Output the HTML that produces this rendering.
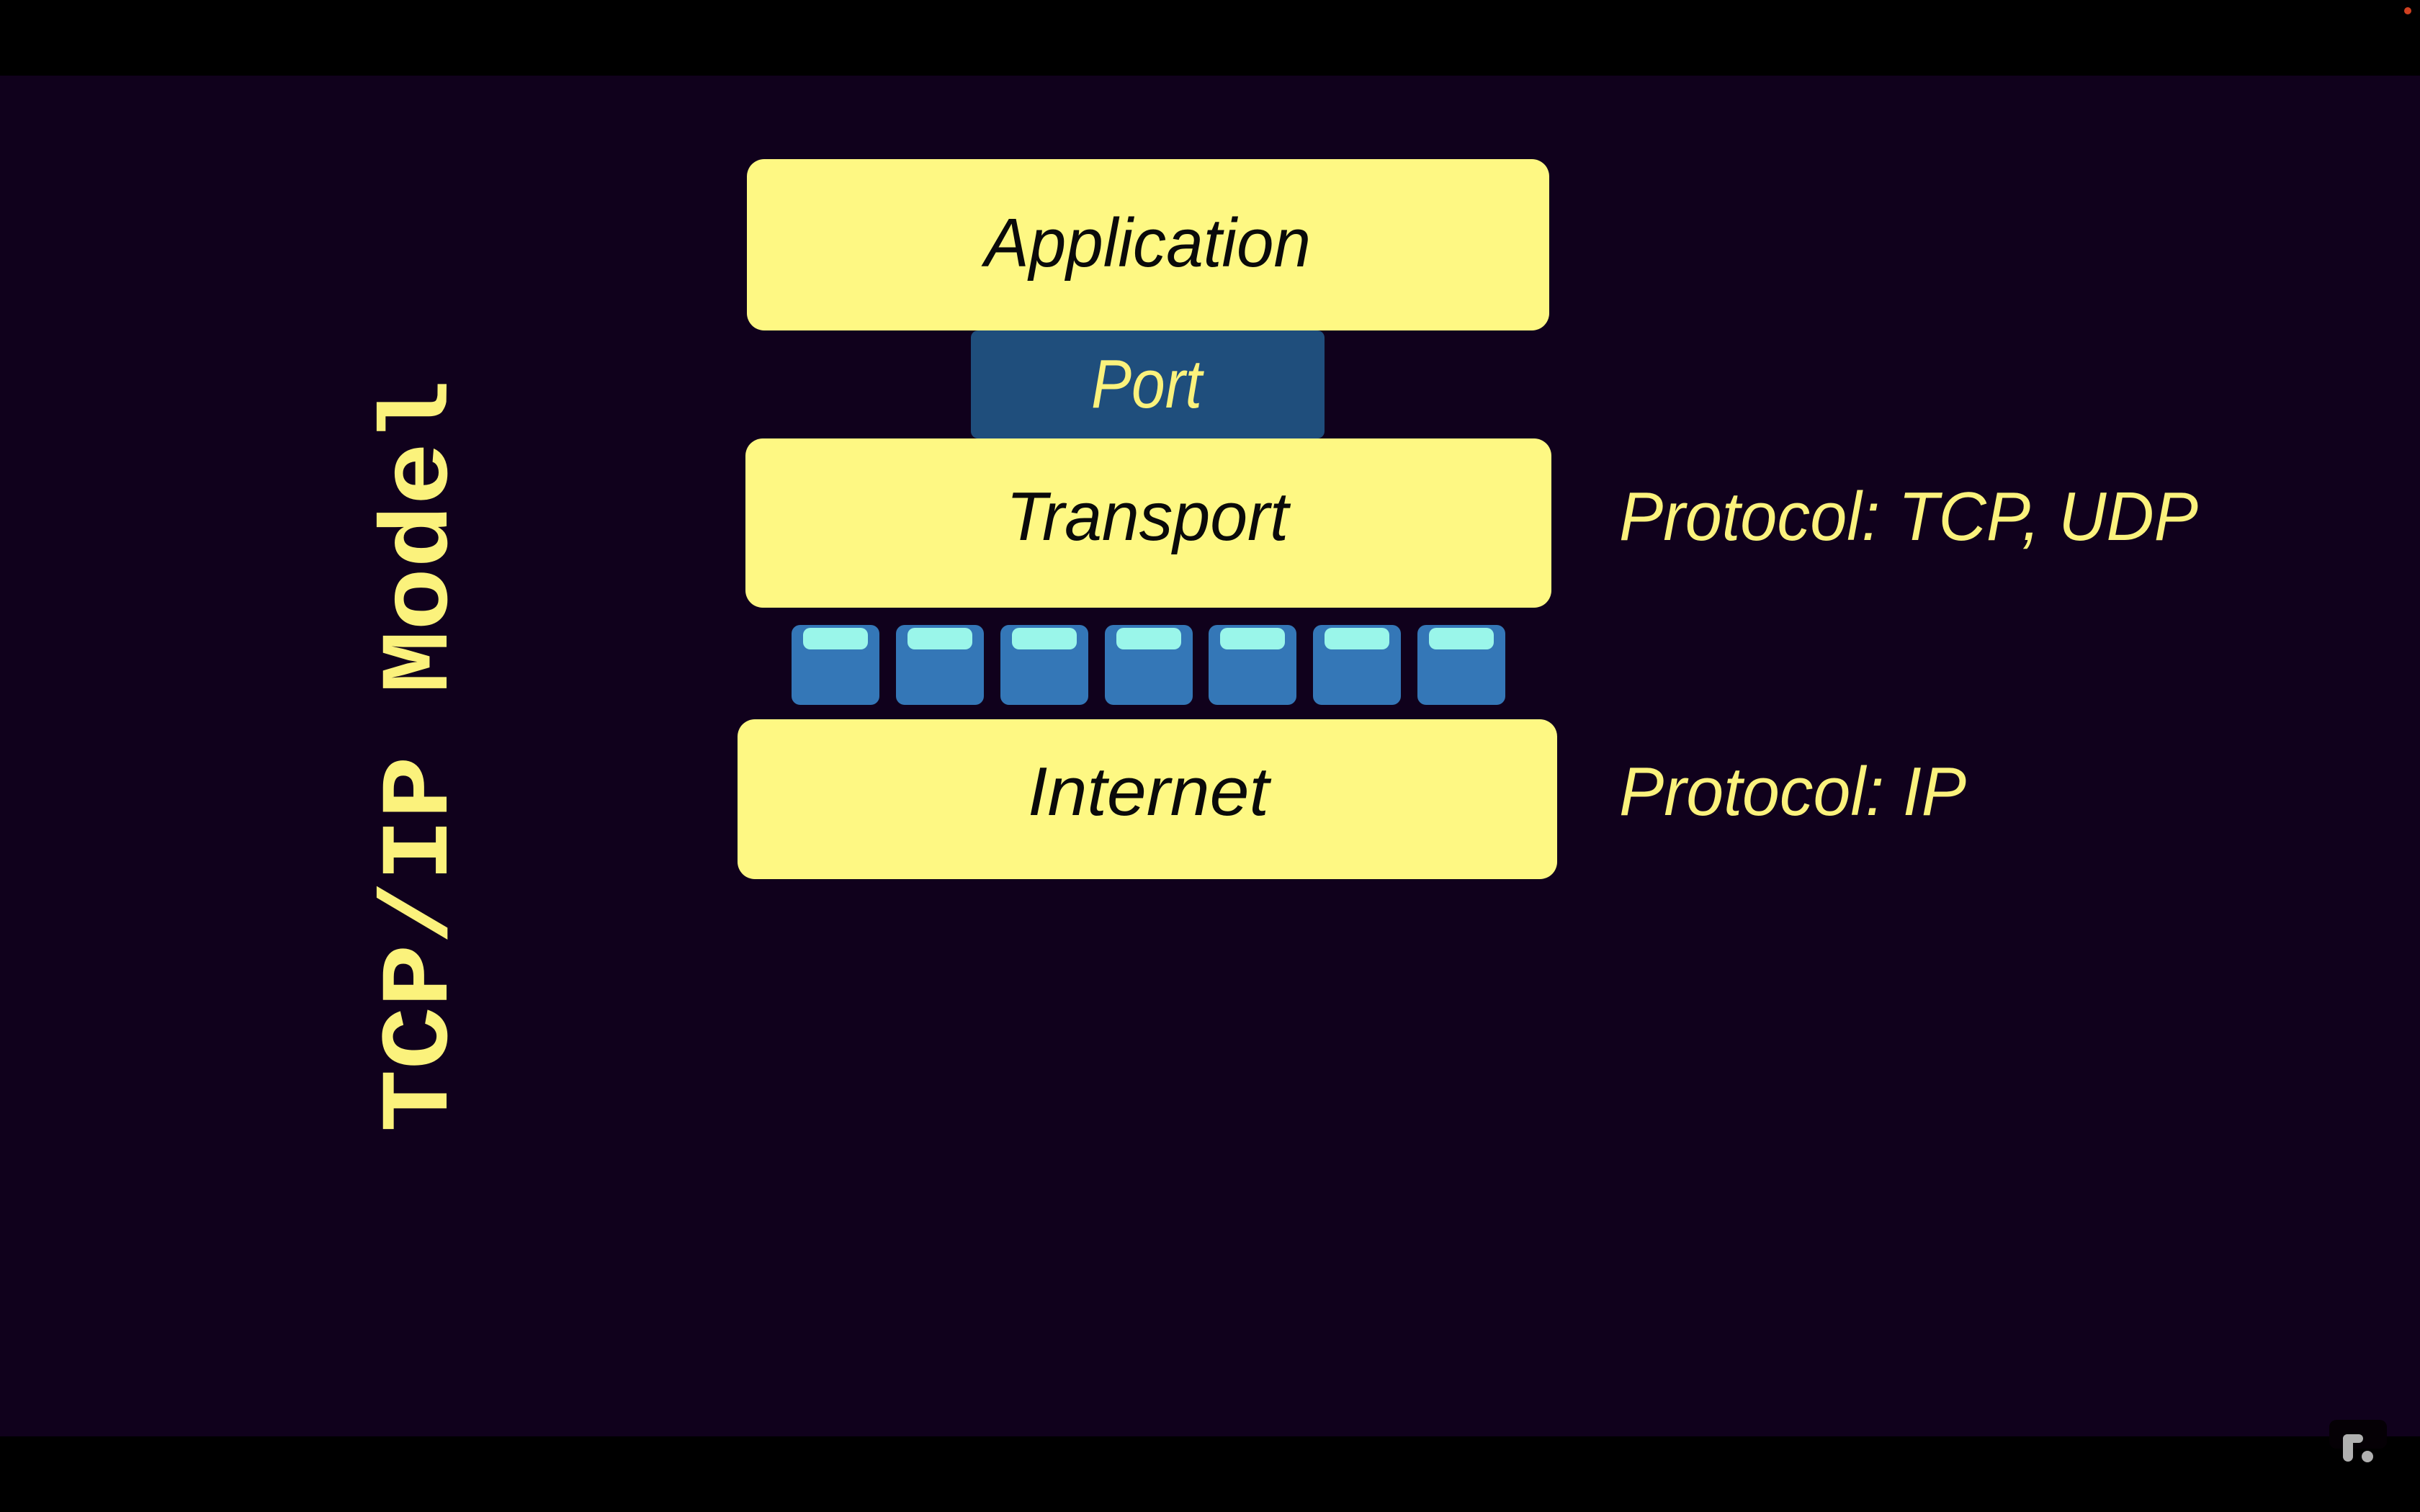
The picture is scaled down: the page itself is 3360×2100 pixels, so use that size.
<!DOCTYPE html>
<html><head><meta charset="utf-8"><style>
html,body{margin:0;padding:0;background:#000;}
svg{display:block;}
</style></head><body>
<svg width="3360" height="2100" viewBox="0 0 3360 2100" xmlns="http://www.w3.org/2000/svg">
<rect x="0" y="0" width="3360" height="2100" fill="#000"/>
<rect x="0" y="105" width="3360" height="1890" fill="#10011c"/>
<circle cx="3343" cy="15" r="5" fill="#d04020"/>
<text x="0" y="0" transform="translate(620,1050) rotate(-90)" text-anchor="middle" font-family="Liberation Mono, monospace" font-weight="bold" font-size="134" fill="#fbf27c" textLength="1045" lengthAdjust="spacingAndGlyphs">TCP/IP Model</text>
<rect x="1037" y="221" width="1114" height="238" rx="24" fill="#fef883"/>
<rect x="1348" y="459" width="491" height="150" rx="10" fill="#1f4e7c"/>
<rect x="1035" y="609" width="1119" height="235" rx="24" fill="#fef883"/>
<rect x="1024" y="999" width="1138" height="222" rx="24" fill="#fef883"/>
<g fill="#3477b7">
<rect x="1099" y="868" width="122" height="111" rx="12"/>
<rect x="1244" y="868" width="122" height="111" rx="12"/>
<rect x="1389" y="868" width="122" height="111" rx="12"/>
<rect x="1534" y="868" width="122" height="111" rx="12"/>
<rect x="1678" y="868" width="122" height="111" rx="12"/>
<rect x="1823" y="868" width="122" height="111" rx="12"/>
<rect x="1968" y="868" width="122" height="111" rx="12"/>
</g>
<g fill="#9af6ea">
<rect x="1115" y="872" width="90" height="30" rx="10"/>
<rect x="1260" y="872" width="90" height="30" rx="10"/>
<rect x="1405" y="872" width="90" height="30" rx="10"/>
<rect x="1550" y="872" width="90" height="30" rx="10"/>
<rect x="1694" y="872" width="90" height="30" rx="10"/>
<rect x="1839" y="872" width="90" height="30" rx="10"/>
<rect x="1984" y="872" width="90" height="30" rx="10"/>
</g>
<g font-family="Liberation Sans, sans-serif" font-style="italic" font-size="96">
<text x="1367" y="370" textLength="453" lengthAdjust="spacingAndGlyphs" fill="#0a0a0a">Application</text>
<text x="1515" y="566" textLength="154" lengthAdjust="spacingAndGlyphs" fill="#fbf27c">Port</text>
<text x="1397" y="750" textLength="392" lengthAdjust="spacingAndGlyphs" fill="#0a0a0a">Transport</text>
<text x="1427" y="1132" textLength="335" lengthAdjust="spacingAndGlyphs" fill="#0a0a0a">Internet</text>
<text x="2248" y="750" textLength="804" lengthAdjust="spacingAndGlyphs" fill="#fbf27c">Protocol: TCP, UDP</text>
<text x="2248" y="1132" textLength="482" lengthAdjust="spacingAndGlyphs" fill="#fbf27c">Protocol: IP</text>
</g>
<rect x="3234" y="1972" width="80" height="40" rx="10" fill="#050005"/>
<rect x="3253" y="1992" width="14" height="38" rx="7" fill="#b0b0b0"/>
<rect x="3253" y="1992" width="28" height="12" rx="6" fill="#b0b0b0"/>
<circle cx="3287" cy="2023" r="8" fill="#b0b0b0"/>
</svg>
</body></html>
